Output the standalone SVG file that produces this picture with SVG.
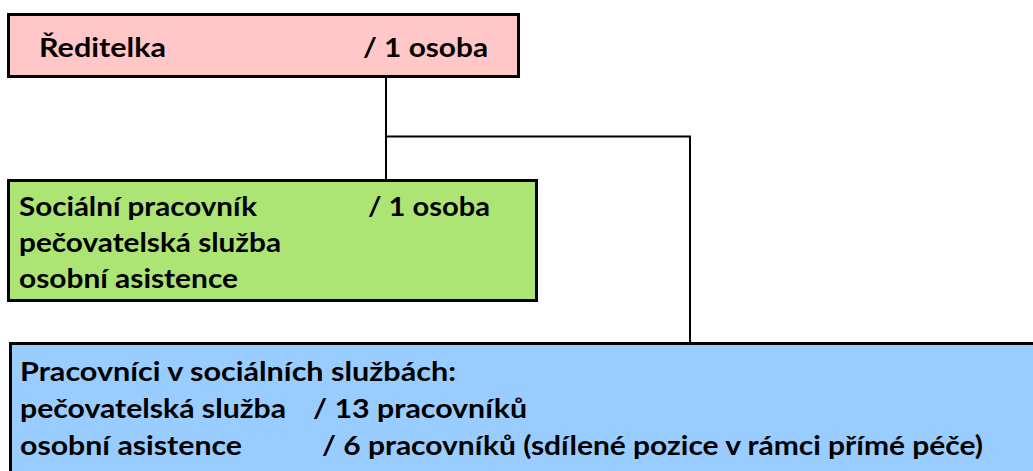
<svg xmlns="http://www.w3.org/2000/svg" width="1033" height="471" viewBox="0 0 1033 471">
<style>
.box{stroke:#000;stroke-width:3}
.t{font-family:Lato,"Liberation Sans","DejaVu Sans",sans-serif;font-weight:700;font-size:27px;fill:#000}
.c{fill:none;stroke:#000;stroke-width:2}
</style>
<rect width="1033" height="471" fill="#fff"/>
<g id="connectors">
<path class="c" d="M386,76 V180"/>
<path class="c" d="M386,136.5 H690 V343"/>
</g>
<g id="node-reditelka">
<rect class="box" x="8.5" y="14.5" width="510" height="62" fill="#FFC7C7"/>
<text class="t" x="39" y="57" textLength="127" lengthAdjust="spacingAndGlyphs">Ředitelka</text>
<text class="t" x="363" y="57" textLength="125" lengthAdjust="spacingAndGlyphs">/ 1 osoba</text>
</g>
<g id="node-socialni-pracovnik">
<rect class="box" x="8.5" y="180.5" width="528" height="120" fill="#ACE574"/>
<text class="t" x="19" y="216" textLength="238" lengthAdjust="spacingAndGlyphs">Sociální pracovník</text>
<text class="t" x="368" y="216" textLength="122" lengthAdjust="spacingAndGlyphs">/ 1 osoba</text>
<text class="t" x="19" y="252" textLength="262" lengthAdjust="spacingAndGlyphs">pečovatelská služba</text>
<text class="t" x="19" y="288" textLength="219" lengthAdjust="spacingAndGlyphs">osobní asistence</text>
</g>
<g id="node-pracovnici">
<rect class="box" x="10.5" y="343.5" width="1030" height="140" fill="#99CCFF"/>
<text class="t" x="20" y="381" textLength="436" lengthAdjust="spacingAndGlyphs">Pracovníci v sociálních službách:</text>
<text class="t" x="20" y="418" textLength="266" lengthAdjust="spacingAndGlyphs">pečovatelská služba</text>
<text class="t" x="313" y="418" textLength="214" lengthAdjust="spacingAndGlyphs">/ 13 pracovníků</text>
<text class="t" x="20" y="455" textLength="222" lengthAdjust="spacingAndGlyphs">osobní asistence</text>
<text class="t" x="322" y="455" textLength="661" lengthAdjust="spacingAndGlyphs">/ 6 pracovníků (sdílené pozice v rámci přímé péče)</text>
</g>
</svg>
